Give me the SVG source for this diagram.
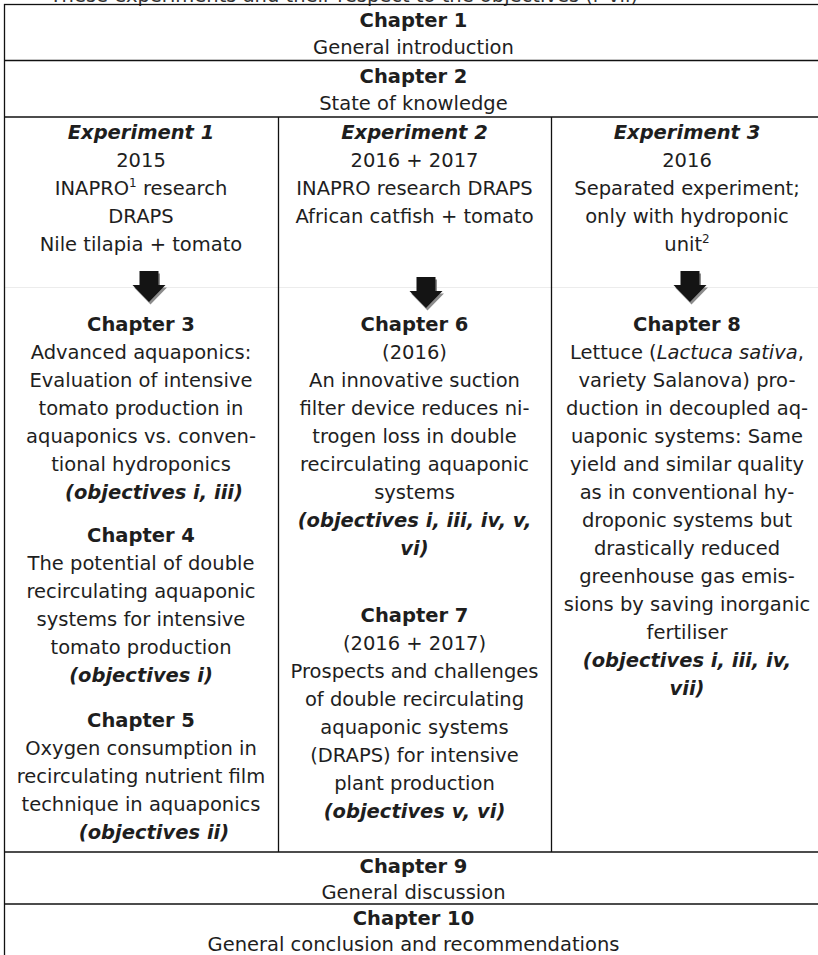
<svg xmlns="http://www.w3.org/2000/svg" xmlns:xlink="http://www.w3.org/1999/xlink" width="818" height="955" viewBox="0 0 818 955">
<style>
text{font-family:"DejaVu Sans",Verdana,"Liberation Sans",sans-serif;font-size:19.5px;fill:#1e1e1e;text-anchor:middle}
.b{font-weight:bold}
.bi{font-weight:bold;font-style:italic}
.i{font-style:italic}
.cap{text-anchor:end;fill:#333}
.grid{stroke:#111;stroke-width:1.3;fill:none}
.faint{stroke:#ececec;stroke-width:1;fill:none}
.sup{font-size:12px}
</style>
<defs>
<path id="arrowShape" d="M-9.5,0 H9.5 V14 H16.5 L0,31 L-16.5,14 H-9.5 Z"/>
<g id="arrow">
<use xlink:href="#arrowShape" href="#arrowShape" transform="translate(1.5,2.5)" fill="#8c8c8c"/>
<use xlink:href="#arrowShape" href="#arrowShape" fill="#141414"/>
</g>
</defs>
<rect width="818" height="955" fill="#ffffff"/>
<text class="cap" x="638" y="1.5">These experiments and their respect to the objectives (i–vii)</text>

<g id="table">
<line class="faint" x1="4" y1="287.5" x2="823" y2="287.5"/>
<rect class="grid" x="4.5" y="4.5" width="820" height="960"/>
<line class="grid" x1="4" y1="60.5" x2="823" y2="60.5"/>
<line class="grid" x1="4" y1="117" x2="823" y2="117"/>
<line class="grid" x1="278.5" y1="117" x2="278.5" y2="852"/>
<line class="grid" x1="551.5" y1="117" x2="551.5" y2="852"/>
<line class="grid" x1="4" y1="852" x2="823" y2="852"/>
<line class="grid" x1="4" y1="904" x2="823" y2="904"/>
</g>

<g id="chapter1">
<text class="b" x="413.5" y="26.5">Chapter 1</text>
<text x="413.5" y="54">General introduction</text>
</g>
<g id="chapter2">
<text class="b" x="413.5" y="82.5">Chapter 2</text>
<text x="413.5" y="110">State of knowledge</text>
</g>

<g id="experiment1">
<text class="bi" x="141" y="139">Experiment 1</text>
<text x="141" y="167">2015</text>
<text x="141" y="195">INAPRO<tspan class="sup" dy="-8">1</tspan><tspan dy="8"> research</tspan></text>
<text x="141" y="223">DRAPS</text>
<text x="141" y="251">Nile tilapia + tomato</text>
</g>
<g id="experiment2">
<text class="bi" x="414.5" y="139">Experiment 2</text>
<text x="414.5" y="167">2016 + 2017</text>
<text x="414.5" y="195">INAPRO research DRAPS</text>
<text x="414.5" y="223">African catfish + tomato</text>
</g>
<g id="experiment3">
<text class="bi" x="687" y="139">Experiment 3</text>
<text x="687" y="167">2016</text>
<text x="687" y="195">Separated experiment;</text>
<text x="687" y="223">only with hydroponic</text>
<text x="687" y="251">unit<tspan class="sup" dy="-8">2</tspan></text>
</g>

<g id="connectors">
<use xlink:href="#arrow" href="#arrow" transform="translate(149,271)"/>
<use xlink:href="#arrow" href="#arrow" transform="translate(426,277)"/>
<use xlink:href="#arrow" href="#arrow" transform="translate(690,271)"/>
</g>

<g id="chapter3">
<text class="b" x="141" y="331">Chapter 3</text>
<text x="141" y="359">Advanced aquaponics:</text>
<text x="141" y="387">Evaluation of intensive</text>
<text x="141" y="415">tomato production in</text>
<text x="141" y="443">aquaponics vs. conven-</text>
<text x="141" y="471">tional hydroponics</text>
<text class="bi" x="154" y="499">(objectives i, iii)</text>
</g>
<g id="chapter4">
<text class="b" x="141" y="542">Chapter 4</text>
<text x="141" y="570">The potential of double</text>
<text x="141" y="598">recirculating aquaponic</text>
<text x="141" y="626">systems for intensive</text>
<text x="141" y="654">tomato production</text>
<text class="bi" x="141" y="682">(objectives i)</text>
</g>
<g id="chapter5">
<text class="b" x="141" y="727">Chapter 5</text>
<text x="141" y="755">Oxygen consumption in</text>
<text x="141" y="783">recirculating nutrient film</text>
<text x="141" y="811">technique in aquaponics</text>
<text class="bi" x="154" y="839">(objectives ii)</text>
</g>

<g id="chapter6">
<text class="b" x="414.5" y="331">Chapter 6</text>
<text x="414.5" y="359">(2016)</text>
<text x="414.5" y="387">An innovative suction</text>
<text x="414.5" y="415">filter device reduces ni-</text>
<text x="414.5" y="443">trogen loss in double</text>
<text x="414.5" y="471">recirculating aquaponic</text>
<text x="414.5" y="499">systems</text>
<text class="bi" x="414.5" y="527">(objectives i, iii, iv, v,</text>
<text class="bi" x="414.5" y="555">vi)</text>
</g>
<g id="chapter7">
<text class="b" x="414.5" y="622">Chapter 7</text>
<text x="414.5" y="650">(2016 + 2017)</text>
<text x="414.5" y="678">Prospects and challenges</text>
<text x="414.5" y="706">of double recirculating</text>
<text x="414.5" y="734">aquaponic systems</text>
<text x="414.5" y="762">(DRAPS) for intensive</text>
<text x="414.5" y="790">plant production</text>
<text class="bi" x="414.5" y="818">(objectives v, vi)</text>
</g>

<g id="chapter8">
<text class="b" x="687" y="331">Chapter 8</text>
<text x="687" y="359">Lettuce (<tspan class="i">Lactuca sativa</tspan>,</text>
<text x="687" y="387">variety Salanova) pro-</text>
<text x="687" y="415">duction in decoupled aq-</text>
<text x="687" y="443">uaponic systems: Same</text>
<text x="687" y="471">yield and similar quality</text>
<text x="687" y="499">as in conventional hy-</text>
<text x="687" y="527">droponic systems but</text>
<text x="687" y="555">drastically reduced</text>
<text x="687" y="583">greenhouse gas emis-</text>
<text x="687" y="611">sions by saving inorganic</text>
<text x="687" y="639">fertiliser</text>
<text class="bi" x="687" y="667">(objectives i, iii, iv,</text>
<text class="bi" x="687" y="695">vii)</text>
</g>

<g id="chapter9">
<text class="b" x="413.5" y="873">Chapter 9</text>
<text x="413.5" y="899">General discussion</text>
</g>
<g id="chapter10">
<text class="b" x="413.5" y="925">Chapter 10</text>
<text x="413.5" y="951">General conclusion and recommendations</text>
</g>
</svg>
